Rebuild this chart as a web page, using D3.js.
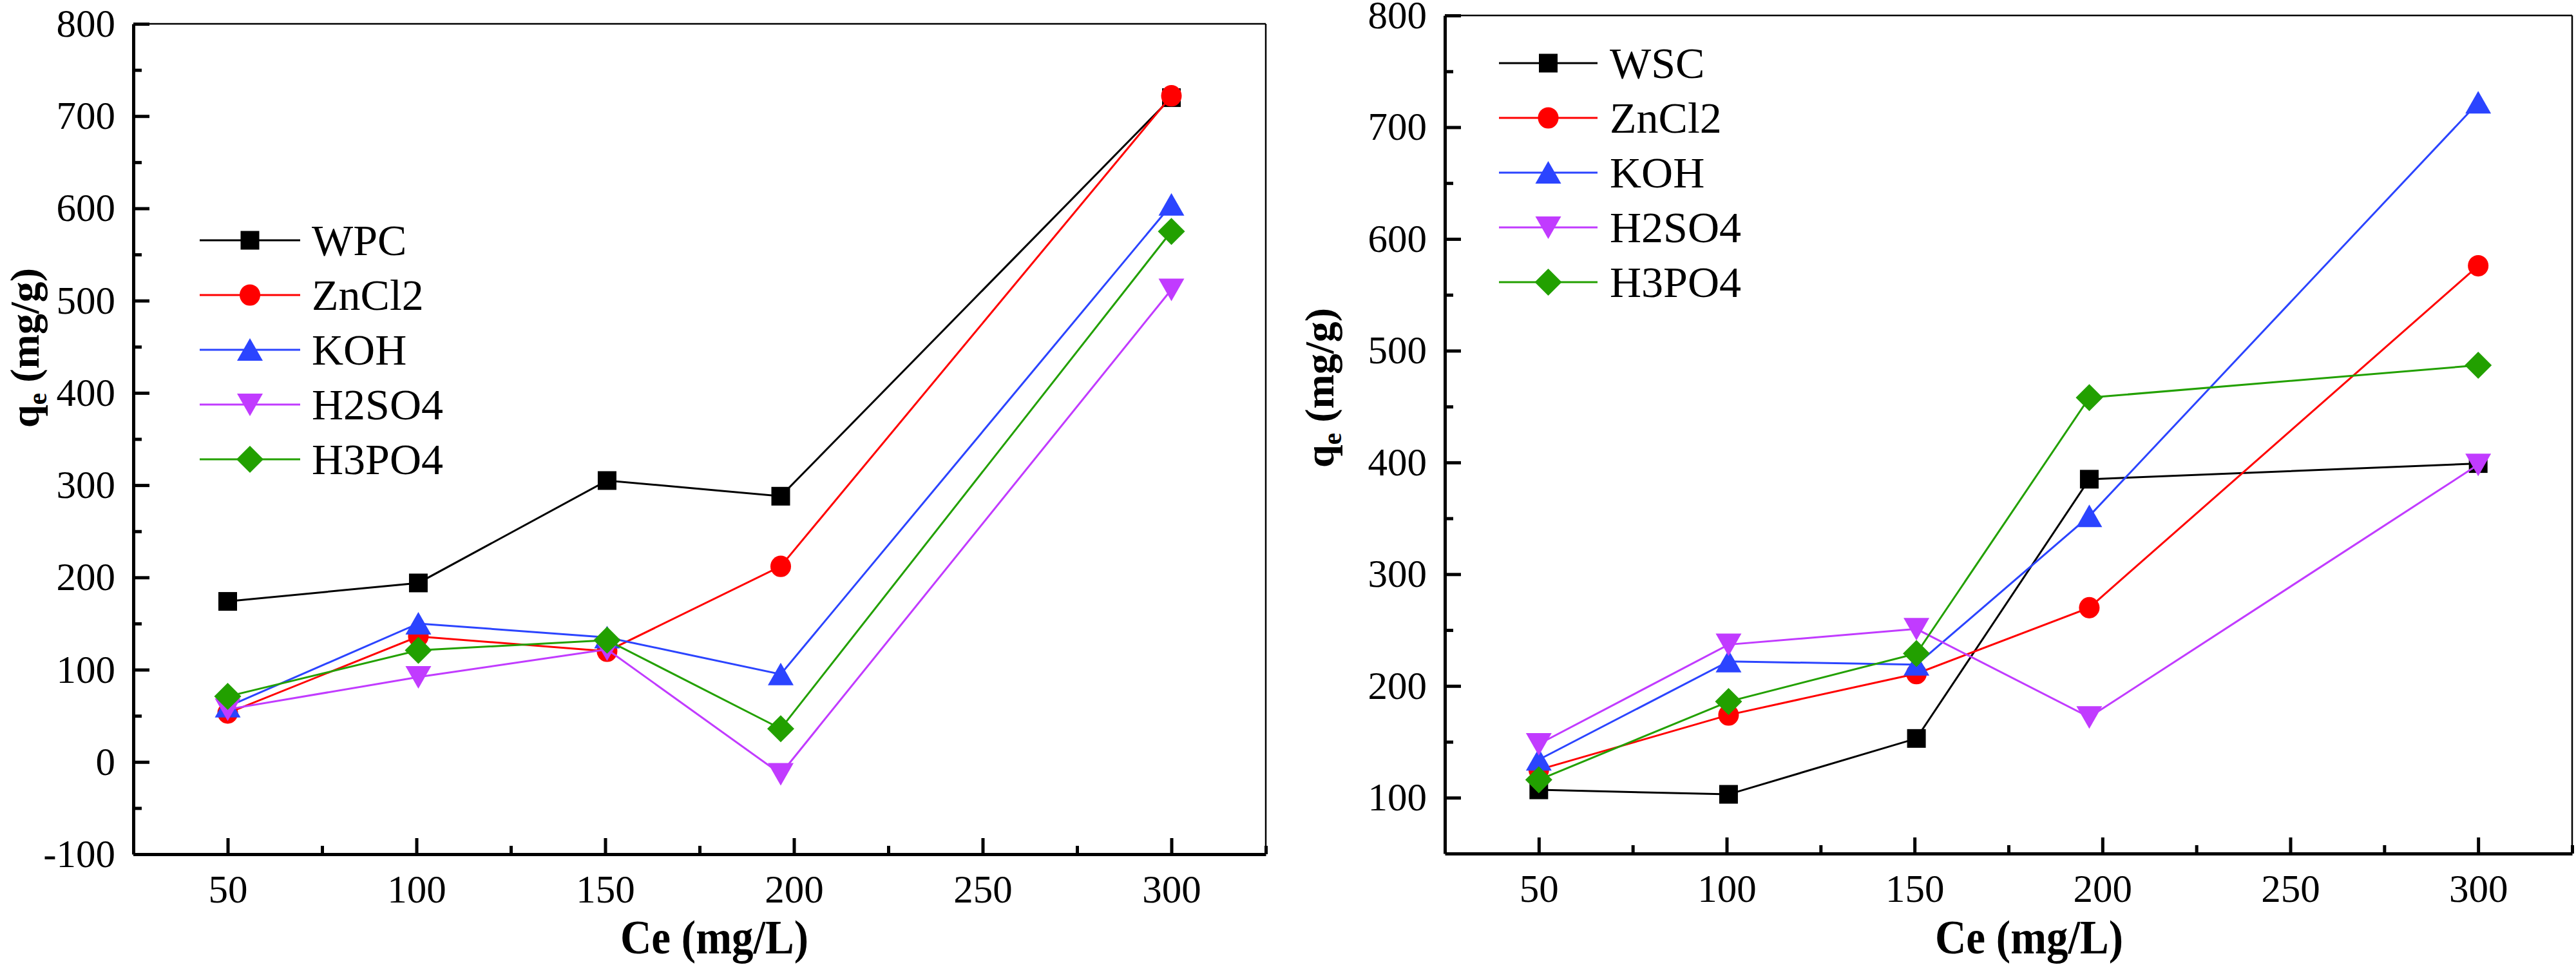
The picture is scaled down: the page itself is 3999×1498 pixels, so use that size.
<!DOCTYPE html>
<html><head><meta charset="utf-8">
<script src="https://cdn.jsdelivr.net/npm/d3@7"></script>
<style>
body{margin:0;background:#fff;}
svg text{font-family:"Liberation Serif","Times New Roman",serif;fill:#000;}
</style>
</head><body>
<svg id="chart" width="3999" height="1498"></svg>
<script>
// ---- data ----
const ce = [50, 100.5, 150.5, 196.5, 300];
const xTicks = [50, 100, 150, 200, 250, 300];
const xMinorTicks = [25, 75, 125, 175, 225, 275, 325];

const leftNames = ["WPC", "ZnCl2", "KOH", "H2SO4", "H3PO4"];
const wpcLeft   = [174, 194, 305, 288, 720];
const zncl2Left = [53, 136, 120, 212, 722];
const kohLeft   = [60, 150, 135, 95, 604];
const h2so4Left = [57, 92, 122, -13, 512];
const h3po4Left = [71, 121, 132, 36, 575];
const leftYTicks = [-100, 0, 100, 200, 300, 400, 500, 600, 700, 800];
const leftYMinor = [-50, 50, 150, 250, 350, 450, 550, 650, 750];

const rightNames = ["WSC", "ZnCl2", "KOH", "H2SO4", "H3PO4"];
const wscRight   = [107, 103, 153, 385, 399];
const zncl2Right = [125, 174, 211, 270, 576];
const kohRight   = [134, 222, 219, 352, 722];
const h2so4Right = [148, 237, 251, 172, 398];
const h3po4Right = [116, 186, 229, 458, 487];
const rightYTicks = [100, 200, 300, 400, 500, 600, 700, 800];
const rightYMinor = [150, 250, 350, 450, 550, 650, 750];

const xLabel = "Ce (mg/L)";
const colors = ["#000000", "#ff0000", "#2b44ff", "#c13bff", "#22a000"];
const shapes = ["square", "circle", "triUp", "triDown", "diamond"];

// ---- drawing ----
const svg = d3.select("#chart");
svg.append("rect").attr("width", 3999).attr("height", 1498).attr("fill", "#fff");

function markerPath(shape) {
  switch (shape) {
    case "square": return "M-14.5,-14.5H14.5V14.5H-14.5Z";
    case "circle": return "M16,0A16,16.6 0 1,1 -16,0A16,16.6 0 1,1 16,0Z";
    case "triUp": return "M0,-18L20,17L-20,17Z";
    case "triDown": return "M0,18L20,-17L-20,-17Z";
    case "diamond": return "M0,-21L21,0L0,21L-21,0Z";
  }
}

function drawPanel(cfg) {
  const x = d3.scaleLinear().domain([25, 325]).range([cfg.left, cfg.right]);
  const y = d3.scaleLinear().domain(cfg.yDomain).range([cfg.bottom, cfg.top]);
  const g = svg.append("g");

  // thin top and right frame
  g.append("line").attr("x1", cfg.left).attr("x2", cfg.right).attr("y1", cfg.top).attr("y2", cfg.top)
    .attr("stroke", "#000").attr("stroke-width", 2.5);
  g.append("line").attr("x1", cfg.right).attr("x2", cfg.right).attr("y1", cfg.top).attr("y2", cfg.bottom)
    .attr("stroke", "#000").attr("stroke-width", 2.5);

  // minor ticks
  const yMin = g.append("g").attr("transform", `translate(${cfg.left},0)`)
    .call(d3.axisLeft(y).tickValues(cfg.yMinor).tickSizeInner(-13).tickSizeOuter(0).tickFormat(""));
  yMin.select(".domain").remove();
  yMin.selectAll(".tick line").attr("stroke-width", 5);
  const xMin = g.append("g").attr("transform", `translate(0,${cfg.bottom})`)
    .call(d3.axisBottom(x).tickValues(xMinorTicks).tickSizeInner(-13).tickSizeOuter(0).tickFormat(""));
  xMin.select(".domain").remove();
  xMin.selectAll(".tick line").attr("stroke-width", 5);

  // major axes
  const yAx = g.append("g").attr("transform", `translate(${cfg.left},0)`)
    .call(d3.axisLeft(y).tickValues(cfg.yTicks).tickSizeInner(-25).tickSizeOuter(0).tickPadding(28)
      .tickFormat(d => String(d)));
  const xAx = g.append("g").attr("transform", `translate(0,${cfg.bottom})`)
    .call(d3.axisBottom(x).tickValues(xTicks).tickSizeInner(-25).tickSizeOuter(0).tickPadding(32)
      .tickFormat(d => String(d)));
  [yAx, xAx].forEach(a => {
    a.attr("font-family", "Liberation Serif");
    a.select(".domain").attr("stroke-width", 5).attr("stroke", "#000");
    a.selectAll(".tick line").attr("stroke-width", 5);
    a.selectAll("text").attr("font-size", 61).attr("font-family", "Liberation Serif").attr("fill", "#000");
  });

  // series
  const line = d3.line().x((d, i) => x(ce[i])).y(d => y(d));
  cfg.series.forEach((vals, si) => {
    g.append("path").datum(vals).attr("d", line).attr("fill", "none")
      .attr("stroke", colors[si]).attr("stroke-width", 3);
    g.selectAll(null).data(vals).enter().append("path")
      .attr("d", markerPath(shapes[si]))
      .attr("transform", (d, i) => `translate(${x(ce[i])},${y(d)})`)
      .attr("fill", colors[si]);
  });

  // legend
  cfg.names.forEach((name, i) => {
    const ly = cfg.legend.y + i * 85;
    g.append("line").attr("x1", cfg.legend.x1).attr("x2", cfg.legend.x2).attr("y1", ly).attr("y2", ly)
      .attr("stroke", colors[i]).attr("stroke-width", 3);
    g.append("path").attr("d", markerPath(shapes[i]))
      .attr("transform", `translate(${(cfg.legend.x1 + cfg.legend.x2) / 2},${ly})`)
      .attr("fill", colors[i]);
    g.append("text").attr("x", cfg.legend.tx).attr("y", ly + 23).attr("font-size", 68)
      .attr("font-family", "Liberation Serif").text(name);
  });

  // axis titles
  g.append("text").attr("x", cfg.xTitle.x).attr("y", 1480).attr("text-anchor", "middle")
    .attr("font-size", 74).attr("font-weight", "bold").attr("font-family", "Liberation Serif")
    .attr("textLength", 292).attr("lengthAdjust", "spacingAndGlyphs").text(xLabel);
  const yt = g.append("text").attr("transform", `translate(${cfg.yTitle.x},${cfg.yTitle.y}) rotate(-90)`)
    .attr("text-anchor", "middle").attr("font-size", 64).attr("font-weight", "bold")
    .attr("font-family", "Liberation Serif");
  yt.append("tspan").text("q");
  yt.append("tspan").attr("font-size", 42).attr("dy", 12).text("e");
  yt.append("tspan").attr("dy", -12).text(" (mg/g)");
}

drawPanel({
  left: 207, right: 1965, top: 37, bottom: 1326,
  yDomain: [-100, 800], yTicks: leftYTicks, yMinor: leftYMinor,
  series: [wpcLeft, zncl2Left, kohLeft, h2so4Left, h3po4Left],
  names: leftNames,
  legend: { x1: 310, x2: 466, tx: 484, y: 373 },
  xTitle: { x: 1109 }, yTitle: { x: 60, y: 540 }
});
drawPanel({
  left: 2243, right: 3993, top: 24, bottom: 1325,
  yDomain: [50, 800], yTicks: rightYTicks, yMinor: rightYMinor,
  series: [wscRight, zncl2Right, kohRight, h2so4Right, h3po4Right],
  names: rightNames,
  legend: { x1: 2327, x2: 2480, tx: 2499, y: 98 },
  xTitle: { x: 3150 }, yTitle: { x: 2070, y: 602 }
});
</script>
</body></html>
